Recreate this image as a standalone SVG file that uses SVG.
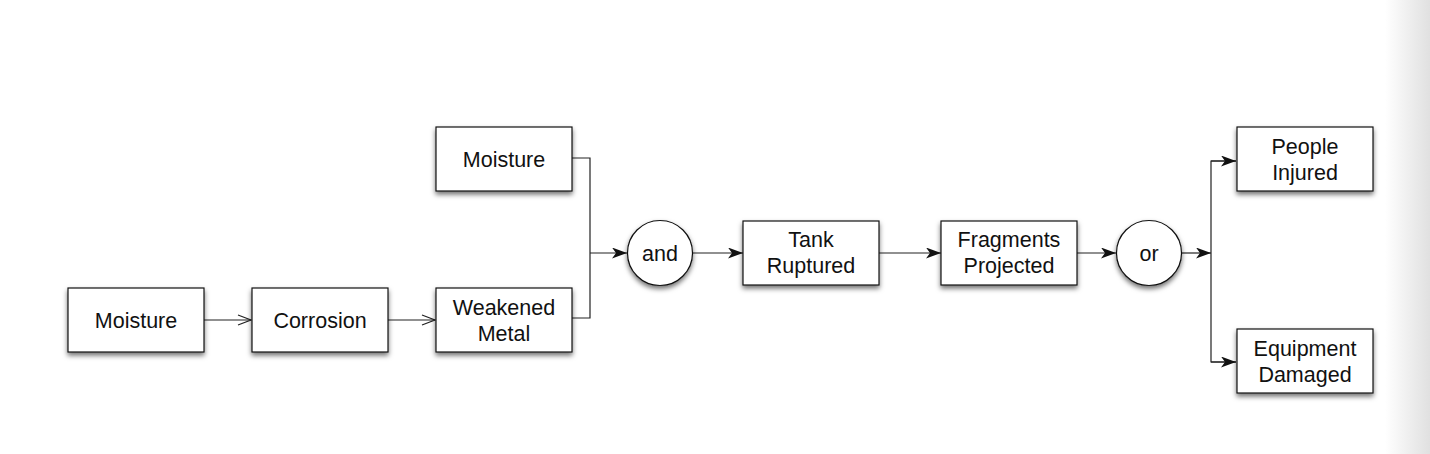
<svg xmlns="http://www.w3.org/2000/svg" width="1430" height="454" viewBox="0 0 1430 454">
<defs>
<linearGradient id="edge" x1="0" y1="0" x2="1" y2="0">
<stop offset="0" stop-color="#ffffff"/>
<stop offset="1" stop-color="#e0e0e0"/>
</linearGradient>
<filter id="sh" x="-20%" y="-20%" width="140%" height="160%">
<feDropShadow dx="0" dy="3" stdDeviation="2.5" flood-color="#000" flood-opacity="0.55"/>
</filter>
<marker id="open" markerWidth="16" markerHeight="14" refX="14" refY="6" orient="auto" markerUnits="userSpaceOnUse">
<polyline points="1,1 14,6 1,11" fill="none" stroke="#222" stroke-width="1.2"/>
</marker>
<marker id="stealth" markerWidth="16" markerHeight="12" refX="15" refY="5.5" orient="auto" markerUnits="userSpaceOnUse">
<path d="M0,0 L15,5.5 L0,11 L4,5.5 Z" fill="#111"/>
</marker>
</defs>
<style>
.box{fill:#fff;stroke:#111;stroke-width:1.2;filter:url(#sh)}
.t{font-family:"Liberation Sans",Arial,Helvetica,sans-serif;font-size:21.5px;fill:#111;text-anchor:middle}
.c{fill:none;stroke:#222;stroke-width:1.2}
</style>
<rect x="0" y="0" width="1430" height="454" fill="#fff"/>
<rect x="1385" y="0" width="45" height="454" fill="url(#edge)"/>

<g id="connectors">
<line class="c" x1="204" y1="320" x2="251" y2="320" marker-end="url(#open)"/>
<line class="c" x1="388" y1="320" x2="435" y2="320" marker-end="url(#open)"/>
<polyline class="c" points="572,158 590,158 590,318 572,318"/>
<line class="c" x1="590" y1="253" x2="627" y2="253" marker-end="url(#stealth)"/>
<line class="c" x1="692" y1="253" x2="743" y2="253" marker-end="url(#stealth)"/>
<line class="c" x1="879" y1="253" x2="941" y2="253" marker-end="url(#stealth)"/>
<line class="c" x1="1077" y1="253" x2="1116" y2="253" marker-end="url(#stealth)"/>
<line class="c" x1="1182" y1="253" x2="1211" y2="253" marker-end="url(#stealth)"/>
<polyline class="c" points="1236,161 1211,161 1211,362 1236,362"/>
<line class="c" x1="1211" y1="161" x2="1236" y2="161" marker-end="url(#stealth)"/>
<line class="c" x1="1211" y1="362" x2="1236" y2="362" marker-end="url(#stealth)"/>
</g>

<g id="moisture1">
<rect class="box" x="68" y="288" width="136" height="64"/>
<text class="t" x="136" y="328">Moisture</text>
</g>
<g id="corrosion">
<rect class="box" x="252" y="288" width="136" height="64"/>
<text class="t" x="320" y="328">Corrosion</text>
</g>
<g id="weakened">
<rect class="box" x="436" y="288" width="136" height="64"/>
<text class="t" x="504" y="315">Weakened</text>
<text class="t" x="504" y="341">Metal</text>
</g>
<g id="moisture2">
<rect class="box" x="436" y="127" width="136" height="64"/>
<text class="t" x="504" y="167">Moisture</text>
</g>
<g id="and">
<circle class="box" cx="660" cy="253" r="32.5"/>
<text class="t" x="660" y="260.5">and</text>
</g>
<g id="tank">
<rect class="box" x="743" y="221" width="136" height="64"/>
<text class="t" x="811" y="247">Tank</text>
<text class="t" x="811" y="273">Ruptured</text>
</g>
<g id="fragments">
<rect class="box" x="941" y="221" width="136" height="64"/>
<text class="t" x="1009" y="247">Fragments</text>
<text class="t" x="1009" y="273">Projected</text>
</g>
<g id="or">
<circle class="box" cx="1149" cy="253" r="32.5"/>
<text class="t" x="1149" y="260.5">or</text>
</g>
<g id="people">
<rect class="box" x="1237" y="127" width="136" height="64"/>
<text class="t" x="1305" y="154">People</text>
<text class="t" x="1305" y="180">Injured</text>
</g>
<g id="equipment">
<rect class="box" x="1237" y="329" width="136" height="64"/>
<text class="t" x="1305" y="356">Equipment</text>
<text class="t" x="1305" y="382">Damaged</text>
</g>
</svg>
